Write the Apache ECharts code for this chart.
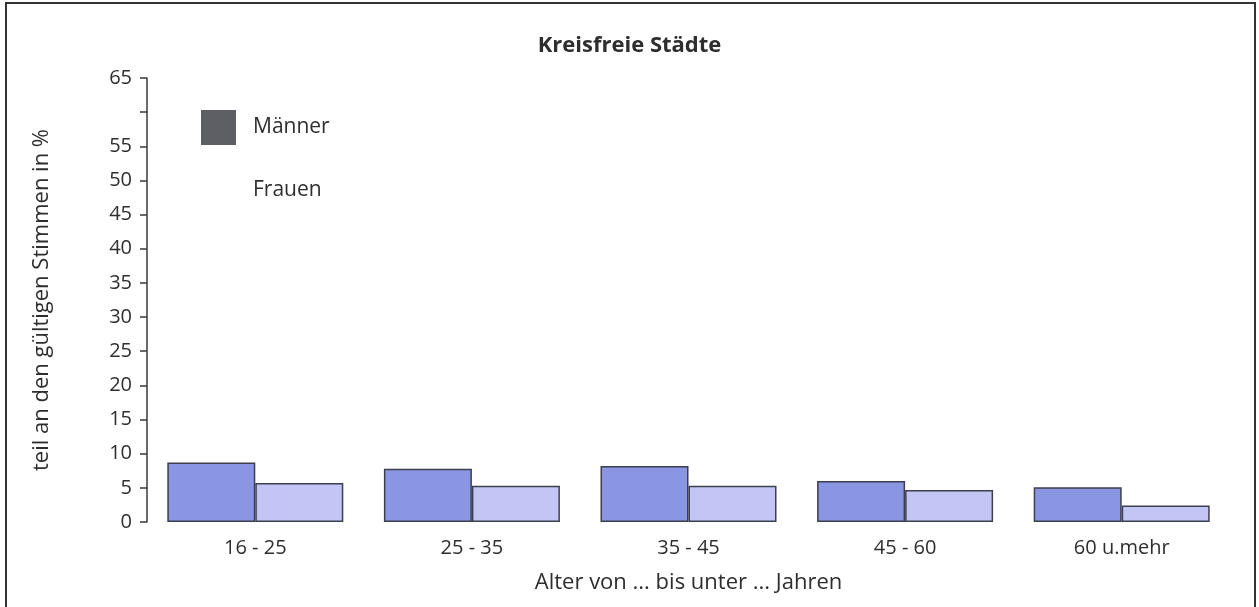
<!DOCTYPE html>
<html>
<head>
<meta charset="utf-8">
<script src="https://cdn.jsdelivr.net/npm/echarts@6/dist/echarts.min.js"></script>
<style>
  html, body { margin: 0; padding: 0; background: #fff; }
  #chart { width: 1259px; height: 607px; }
</style>
</head>
<body>
<div id="chart"></div>
<script>
// Altersgruppen
const categories = ['16 - 25', '25 - 35', '35 - 45', '45 - 60', '60 u.mehr'];
// Anteil an den gültigen Stimmen in %
const maenner = [8.7, 7.8, 8.2, 6.0, 5.1];
const frauen = [5.7, 5.3, 5.3, 4.7, 2.4];

const textColor = '#2e2e2e';
const font = 'Open Sans';

const chart = echarts.init(document.getElementById('chart'));
const option = {
    backgroundColor: '#fff',
    animation: false,
    textStyle: { fontFamily: font, color: textColor },
    title: {
        text: 'Kreisfreie Städte',
        left: 'center',
        top: 30,
        textStyle: { fontFamily: font, fontSize: 22, fontWeight: 'bold', color: textColor }
    },
    legend: {
        orient: 'vertical',
        left: 196,
        top: 105,
        itemWidth: 35,
        itemHeight: 35,
        itemGap: 28,
        icon: 'rect',
        textStyle: { fontSize: 21, color: textColor, padding: [6, 0, 0, 12] },
        data: [
            { name: 'Männer', itemStyle: { color: '#5e5f64', borderWidth: 0 } },
            { name: 'Frauen', icon: 'none' }
        ]
    },
    grid: { left: 147, right: 29, top: 78, bottom: 85 },
    xAxis: {
        type: 'category',
        data: categories,
        axisLine: { show: false },
        axisTick: { show: false },
        axisLabel: { fontSize: 20, color: textColor, margin: 16 },
        name: 'Alter von ... bis unter ... Jahren',
        nameLocation: 'middle',
        nameGap: 50,
        nameTextStyle: { fontSize: 22, color: textColor }
    },
    yAxis: {
        type: 'value',
        min: 0,
        max: 65,
        interval: 5,
        axisLine: { show: true, lineStyle: { color: '#3a3a3a', width: 1.5 } },
        axisTick: { show: true, length: 7, lineStyle: { color: '#3a3a3a', width: 1.5 } },
        splitLine: { show: false },
        axisLabel: {
            fontSize: 20,
            color: textColor,
            margin: 15,
            formatter: v => (v === 60 ? '' : v)
        },
        name: 'teil an den gültigen Stimmen in %',
        nameLocation: 'middle',
        nameGap: 94,
        nameTextStyle: { fontSize: 22, color: textColor }
    },
    series: [
        {
            name: 'Männer',
            type: 'bar',
            data: maenner,
            barWidth: 88,
            barGap: '0%',
            itemStyle: { color: '#8b96e3', borderColor: '#3d3f4f', borderWidth: 1.5 }
        },
        {
            name: 'Frauen',
            type: 'bar',
            data: frauen,
            barWidth: 88,
            barGap: '0%',
            itemStyle: { color: '#c3c6f5', borderColor: '#3d3f4f', borderWidth: 1.5 }
        }
    ],
    graphic: [
        {
            type: 'rect',
            shape: { x: 6, y: 3, width: 1249, height: 640 },
            style: { fill: null, stroke: '#333', lineWidth: 2 },
            silent: true
        }
    ]
};
chart.setOption(option);
</script>
</body>
</html>
